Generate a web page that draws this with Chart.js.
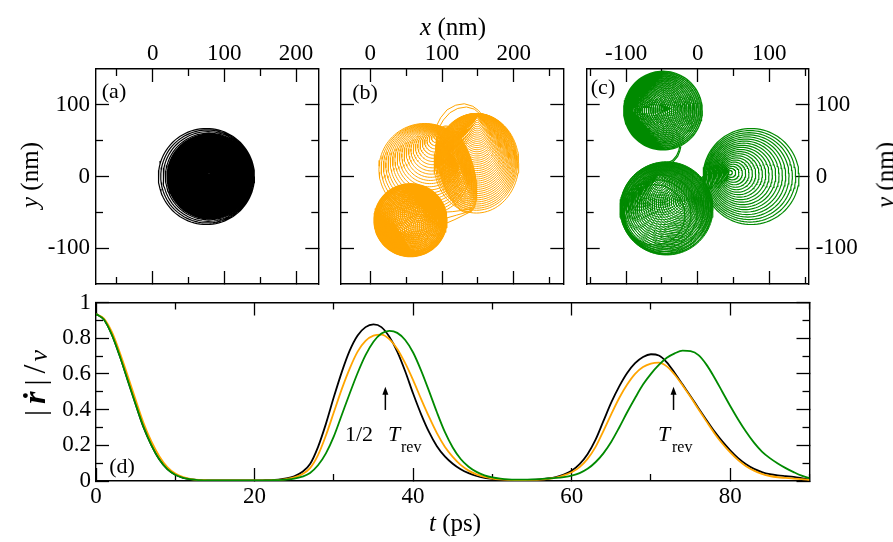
<!DOCTYPE html>
<html lang="en">
<head>
<meta charset="UTF-8">
<title>Trajectories and speed revivals</title>
<script src="https://cdn.jsdelivr.net/npm/chart.js"></script>
<style>
  body { margin: 0; background: #fff; }
  #fig { position: relative; width: 893px; height: 542px; overflow: hidden; font-family: 'Liberation Serif', serif; color: #000; }
  #fig canvas { position: absolute; left: 0; top: 0; }
  .lbl { position: absolute; white-space: nowrap; line-height: 1; }
  .c { transform: translate(-50%, -50%); }
  .rot { transform: translate(-50%, -50%) rotate(-90deg); }
</style>
</head>
<body>
<div id="fig">
  <canvas id="chartA" width="893" height="542"></canvas>
  <canvas id="chartB" width="893" height="542"></canvas>
  <canvas id="chartC" width="893" height="542"></canvas>
  <canvas id="chartD" width="893" height="542"></canvas>

  <!-- axis titles -->
  <div class="lbl c" style="left:453px;top:26px;font-size:25px"><i>x</i> (nm)</div>
  <div class="lbl rot" style="left:29px;top:175px;font-size:25px"><i>y</i> (nm)</div>
  <div class="lbl rot" style="left:885px;top:175px;font-size:25px"><i>y</i> (nm)</div>
  <div class="lbl c" style="left:455px;top:522px;font-size:25px"><i>t</i> (ps)</div>
  <div class="lbl rot" style="left:34px;top:383px;font-size:30px">|<b><i style="margin:0 6px;font-size:32px">ṙ</i></b>|<span style="font-size:32px;margin-left:6px">/</span><i style="font-size:26px;margin-left:3px;position:relative;top:2px">v</i></div>

  <!-- panel tags -->
  <div class="lbl c" style="left:114px;top:91px;font-size:22px">(a)</div>
  <div class="lbl c" style="left:365px;top:92px;font-size:22px">(b)</div>
  <div class="lbl c" style="left:603px;top:87px;font-size:22px">(c)</div>
  <div class="lbl c" style="left:122px;top:466px;font-size:22px">(d)</div>

  <!-- revival annotations -->
  <div class="lbl" style="left:345px;top:423px;font-size:22px">1/2</div>
  <div class="lbl" style="left:388px;top:423px;font-size:22px"><i>T</i></div>
  <div class="lbl" style="left:401px;top:439px;font-size:16px">rev</div>
  <div class="lbl" style="left:658px;top:423px;font-size:22px"><i>T</i></div>
  <div class="lbl" style="left:672px;top:439px;font-size:16px">rev</div>
</div>

<script>
// ---------- panel (d): |r'|/v against t ----------
const timePs = [0,1,2,3,4,5,6,7,8,9,10,11,12,13,14,15,16,17,18,19,20,21,22,23,24,25,26,27,28,29,
  30,31,32,33,34,35,36,37,38,39,40,41,42,43,44,45,46,47,48,49,50,51,52,53,54,55,56,57,58,59,
  60,61,62,63,64,65,66,67,68,69,70,71,72,73,74,75,76,77,78,79,80,81,82,83,84,85,86,87,88,89,90];

const speedBlack = [0.935,0.905,0.82,0.70,0.565,0.43,0.30,0.20,0.12,0.066,0.035,0.018,0.009,0.005,0.003,
  0.003,0.003,0.003,0.003,0.003,0.003,0.004,0.005,0.008,0.014,0.026,0.05,0.095,0.19,0.32,
  0.47,0.61,0.73,0.815,0.862,0.877,0.862,0.808,0.725,0.615,0.49,0.375,0.275,0.195,0.138,
  0.097,0.066,0.044,0.028,0.018,0.012,0.008,0.006,0.005,0.005,0.006,0.009,0.014,0.022,0.036,
  0.058,0.095,0.15,0.23,0.335,0.44,0.53,0.605,0.66,0.695,0.71,0.703,0.665,0.605,0.54,
  0.475,0.408,0.342,0.278,0.222,0.172,0.128,0.094,0.068,0.05,0.038,0.031,0.027,0.023,0.016,0.008];

const speedOrange = [0.935,0.91,0.835,0.72,0.59,0.455,0.325,0.22,0.138,0.078,0.042,0.022,0.011,0.006,0.004,
  0.003,0.003,0.003,0.003,0.003,0.003,0.003,0.004,0.006,0.011,0.02,0.038,0.072,0.145,0.255,
  0.385,0.515,0.63,0.725,0.785,0.814,0.82,0.795,0.74,0.66,0.565,0.46,0.36,0.268,0.192,
  0.135,0.09,0.058,0.037,0.023,0.014,0.009,0.006,0.005,0.005,0.006,0.008,0.012,0.019,0.031,
  0.049,0.078,0.124,0.19,0.28,0.375,0.465,0.54,0.60,0.638,0.658,0.663,0.642,0.595,0.535,
  0.47,0.402,0.334,0.268,0.21,0.16,0.117,0.083,0.058,0.04,0.028,0.021,0.017,0.013,0.01,0.006];

const speedGreen = [0.935,0.905,0.82,0.70,0.565,0.43,0.303,0.20,0.12,0.066,0.035,0.018,0.009,0.005,0.003,
  0.003,0.003,0.003,0.003,0.003,0.003,0.003,0.004,0.005,0.008,0.013,0.024,0.045,0.088,0.155,
  0.25,0.37,0.49,0.605,0.705,0.78,0.826,0.841,0.83,0.79,0.72,0.62,0.505,0.385,0.275,
  0.188,0.123,0.08,0.051,0.032,0.02,0.013,0.009,0.008,0.008,0.009,0.011,0.014,0.017,0.022,
  0.03,0.044,0.068,0.105,0.155,0.22,0.30,0.385,0.465,0.54,0.60,0.65,0.69,0.715,0.73,
  0.727,0.705,0.652,0.58,0.50,0.42,0.345,0.276,0.215,0.165,0.128,0.098,0.072,0.05,0.03,0.015];

const dTicksX = [0, 20, 40, 60, 80];
const dMinorX = [10, 30, 50, 70, 90];
const dLabelsX = ['0', '20', '40', '60', '80'];
const dTicksY = [0, 0.2, 0.4, 0.6, 0.8, 1];
const dMinorY = [0.1, 0.3, 0.5, 0.7, 0.9];
const dLabelsY = ['0', '0.2', '0.4', '0.6', '0.8', '1'];
const arrowTimes = [36.5, 72.85];   // 1/2 T_rev and T_rev
const arrowSpan = [0.398, 0.528];

// ---------- panels (a)-(c): trajectories in nm ----------
const nmTicks = [-100, 0, 100];
const nmMinor = [-50, 50];
const nmLabels = ['-100', '0', '100'];
const aTicksX = [0, 100, 200], aMinorX = [-50, 50, 150], aLabelsX = ['0', '100', '200'];
const bTicksX = [0, 100, 200], bMinorX = [50, 150, 250], bLabelsX = ['0', '100', '200'];
const cTicksX = [-100, 0, 100], cMinorX = [-150, -50, 50, 150], cLabelsX = ['-100', '0', '100'];

// each group of loops: start = centre of the smallest loop, end = centre of the loop of radius R
const aRingR = [67, 64.8, 62.6, 60.4];
const aCoreR = [58.5,56.5,54.5,52.5,50.5,48.5,46.5,44.5,42.5,40.5,38.5,36.5,34.5,32.5,30.5,28.5,
  26.5,24.5,22.5,20.5,18.5,16.5,14.5,12.5,10.5,8.5,6.5,4.5,2.5,1];

const bLowR1 = [51,49,47,45,43,41,39,37,35,33,31,29,27,25,23,21,19,17,15,13,11,9,7,5,3,1];
const bLowR2 = [50,48,46,44,42,40,38,36,34,32,30,28,26,24,22,20,18,16,14,12,10,8,6,4,2];
const bLowR3 = [45, 47, 49, 50.5];
const bMidR = [2,4,6.5,9,11.5,14,16.5,19,21.5,24,26.5,29,31.5,34,36.5,39,41.5,44,46.5,49,51.5,54,56.5,59,61.5,64];
const bRightR1 = [1.5,3,4.5,6,7.5,9,10.5,12,13.5,15,16.5,18,19.5,21,22.5,24,25.5,27,28.5,30,31.5,33,34.5,36,
  37.5,39,40.5,42,43.5,45,46.5,48,49.5,51,52.5,54,55.5,57,58.5,60,61.5,63,64.5,66,67.5,69.5];
const bRightR2 = [4,6.5,9,11.5,14,16.5,19,21.5,24,26.5,29,31.5,34,36.5,39,41.5,44,46.5,49,51.5,54,56.5,59,61,62.6];
const bArc1 = [[92,70],[98,82],[107,93],[119,99.5],[131,101.5],[143,98],[151,92],[155,87]];
const bArc2 = [[95,67],[102,79],[111,89],[122,95],[134,97],[145,94],[152,88]];
const bLink1 = [[104,-66],[118,-60],[132,-53],[142,-48]];
const bLink2 = [[106,-58],[120,-54],[134,-50],[144,-46]];
const bLink3 = [[100,-50],[115,-49],[130,-47],[143,-44]];

const c1R1 = [1,2.5,4,5.5,7,8.5,10,11.5,13,14.5,16,17.5,19,20.5,22,23.5,25,26.5,28,29.5,31,32.5,34,35.5,
  37,38.5,40,41.5,43,44.5,46,47.5,49,50.5,52,53.5,55];
const c1R2 = [2,4.5,7,9.5,12,14.5,17,19.5,22,24.5,27,29.5,32,34.5,37,39.5,42,44.5,47,49.5,52,54];
const c2R1 = [1,3,5,7,9,11,13,15,17,19,21,23,25,27,29,31,33,35,37,39,41,43,45,47,49,51,53,55,57,59,61,63,65];
const c2R2 = [2,4,6,8,10,12,14,16,18,20,22,24,26,28,30,32,34,36,38,40,42,44,46,48,50,52,54,56,58,60,62,64];
const c2R3 = [42, 47, 52, 57, 61, 64];
const c3R = [3,6.2,9.4,12.6,15.8,19,22.2,25.4,28.6,31.8,35,38.2,41.4,44.6,47.8,51,54.2,57.4,60.6,63.8,67];
const cTail1 = [[3,-6],[6,-1],[12,2.5],[22,4.5],[34,5.5],[44,5.6]];
const cTail2 = [[5,-3],[15,3.5],[30,5],[44,5]];
const cLink1 = [[-25,42],[-26.5,36],[-29.5,29],[-35,22.5],[-43,18.5],[-50,17]];
const cLink2 = [[-23.5,42],[-25,35.5],[-28,28],[-34,21],[-42,17],[-49,15.5]];

// ---------- helpers ----------
const W = 893, H = 542;
const ORANGE = '#ffa500', GREEN = '#008a00';
Chart.defaults.font.family = "'Liberation Serif', serif";

function loops(g) {
  const pts = [];
  const rot = (g.tilt || 0) * Math.PI / 180;
  g.radii.forEach(r => {
    const k = r / g.R;
    const ox = g.start[0] + k * (g.end[0] - g.start[0]);
    const oy = g.start[1] + k * (g.end[1] - g.start[1]);
    const rx = r * (g.sx || 1), ry = r;
    for (let i = 0; i <= 96; i++) {
      const a = i / 96 * 2 * Math.PI;
      const ex = rx * Math.cos(a), ey = ry * Math.sin(a);
      pts.push({ x: ox + ex * Math.cos(rot) - ey * Math.sin(rot), y: oy + ex * Math.sin(rot) + ey * Math.cos(rot) });
    }
    pts.push({ x: null, y: null });
  });
  return pts;
}

function path(list) {
  return list.map(p => ({ x: p[0], y: p[1] }));
}

function trace(data, color, width) {
  return { data, borderColor: color, borderWidth: width, showLine: true, pointRadius: 0, tension: 0 };
}

function axis(pos, range, ticks, len, size, weight, opt) {
  const horiz = pos === 'top' || pos === 'bottom';
  return {
    type: 'linear', position: pos, min: range[0], max: range[1], weight,
    afterBuildTicks: s => { s.ticks = ticks.map(v => ({ value: v })); },
    afterFit: s => { if (horiz) s.height = size; else s.width = size; },
    grid: { drawOnChartArea: false, drawTicks: true, tickLength: -len, tickWidth: 1.3, tickColor: '#000' },
    border: { display: !!opt.border, color: '#000', width: 1.4 },
    ticks: opt.labels
      ? { display: true, autoSkip: false, maxRotation: 0, padding: len + opt.gap, color: '#000',
          font: { size: 23 }, callback: (v, i) => opt.labels[i] }
      : { display: false }
  };
}

function frame(area, xr, yr, t) {
  return {
    x: axis('bottom', xr, t.xMinor, 7, 0, 0, {}),
    xt: axis('top', xr, t.xMinor, 7, 0, 0, {}),
    y: axis('left', yr, t.yMinor, 7, 0, 0, {}),
    yr: axis('right', yr, t.yMinor, 7, 0, 0, {}),
    xB: axis('bottom', xr, t.xMajor, 13, H - area.b, 1, { border: true, labels: t.bottom, gap: 2 }),
    xT: axis('top', xr, t.xMajor, 13, area.t, 1, { border: true, labels: t.top, gap: 1 }),
    yL: axis('left', yr, t.yMajor, 13, area.l, 1, { border: true, labels: t.left, gap: t.gapL || 6 }),
    yR: axis('right', yr, t.yMajor, 13, W - area.r, 1, { border: true, labels: t.right, gap: 7 })
  };
}

function make(id, datasets, scales, plugins) {
  return new Chart(document.getElementById(id), {
    type: 'scatter',
    data: { datasets },
    options: {
      responsive: false, animation: false, devicePixelRatio: 1,
      layout: { padding: 0 },
      plugins: { legend: { display: false }, tooltip: { enabled: false } },
      scales
    },
    plugins: plugins || []
  });
}

// ---------- (a) ----------
make('chartA', [
  trace(loops({ start: [108.5, 0], end: [75, 0], R: 67, radii: aRingR }), '#000', 1.2),
  trace(loops({ start: [79.3, 0], end: [79.3, 0], R: 58.5, radii: aCoreR }), '#000', 2.2)
], frame({ l: 96, t: 69, r: 318.3, b: 284 }, [-79, 231], [-150, 150],
  { xMajor: aTicksX, xMinor: aMinorX, yMajor: nmTicks, yMinor: nmMinor, top: aLabelsX, left: nmLabels, gapL: 6 }));

// ---------- (b) ----------
make('chartB', [
  trace(loops({ start: [72, -44], end: [56, -61], R: 51, radii: bLowR1 }), ORANGE, 1.1),
  trace(loops({ start: [40, -76], end: [56, -61], R: 51, radii: bLowR2 }), ORANGE, 1.1),
  trace(loops({ start: [56, -61], end: [56, -61], R: 51, radii: bLowR3 }), ORANGE, 1.1),
  trace(loops({ start: [93.6, 58.8], end: [76, 10], R: 64, radii: bMidR }), ORANGE, 1),
  trace(loops({ start: [149, 84], end: [148, 18.5], R: 69.5, sx: 0.85, radii: bRightR1 }), ORANGE, 1),
  trace(loops({ start: [124, 16], end: [120, 10], R: 62.6, sx: 0.38, tilt: 16, radii: bRightR2 }), ORANGE, 1),
  trace(path(bArc1), ORANGE, 1), trace(path(bArc2), ORANGE, 1),
  trace(path(bLink1), ORANGE, 1), trace(path(bLink2), ORANGE, 1), trace(path(bLink3), ORANGE, 1)
], frame({ l: 341, t: 69, r: 563.3, b: 284 }, [-40.9, 269.1], [-150, 150],
  { xMajor: bTicksX, xMinor: bMinorX, yMajor: nmTicks, yMinor: nmMinor, top: bLabelsX }));

// ---------- (c) ----------
make('chartC', [
  trace(loops({ start: [-92, 92], end: [-48.5, 92], R: 55, radii: c1R1 }), GREEN, 1.1),
  trace(loops({ start: [-35, 95], end: [-48.5, 92], R: 55, radii: c1R2 }), GREEN, 1),
  trace(loops({ start: [-11.6, -31.5], end: [-43.5, -44.5], R: 65, radii: c2R1 }), GREEN, 1),
  trace(loops({ start: [-55.6, 0.9], end: [-43.5, -44.5], R: 65, radii: c2R2 }), GREEN, 1),
  trace(loops({ start: [-90, -70], end: [-43.5, -44.5], R: 65, radii: c2R3 }), GREEN, 1.1),
  trace(loops({ start: [44, 5.6], end: [74.5, 0], R: 67, radii: c3R }), GREEN, 1.2),
  trace(path(cTail1), GREEN, 1.2), trace(path(cTail2), GREEN, 1.2),
  trace(path(cLink1), GREEN, 1.2), trace(path(cLink2), GREEN, 1.2)
], frame({ l: 586.7, t: 69, r: 808.7, b: 284 }, [-155, 155], [-150, 150],
  { xMajor: cTicksX, xMinor: cMinorX, yMajor: nmTicks, yMinor: nmMinor, top: cLabelsX, right: nmLabels }));

// ---------- (d) ----------
const arrows = {
  id: 'revArrows',
  afterDatasetsDraw(chart) {
    const { ctx, scales } = chart;
    arrowTimes.forEach(t => {
      const px = scales.x.getPixelForValue(t);
      const y0 = scales.y.getPixelForValue(arrowSpan[0]);
      const y1 = scales.y.getPixelForValue(arrowSpan[1]);
      ctx.save();
      ctx.strokeStyle = '#000'; ctx.fillStyle = '#000'; ctx.lineWidth = 1.5;
      ctx.beginPath(); ctx.moveTo(px, y0); ctx.lineTo(px, y1 + 6); ctx.stroke();
      ctx.beginPath(); ctx.moveTo(px, y1); ctx.lineTo(px - 3, y1 + 8); ctx.lineTo(px + 3, y1 + 8);
      ctx.closePath(); ctx.fill();
      ctx.restore();
    });
  }
};

function series(values, color, order) {
  return {
    data: timePs.map((t, i) => ({ x: t, y: values[i] })),
    borderColor: color, borderWidth: 1.8, showLine: true, pointRadius: 0,
    cubicInterpolationMode: 'monotone', order
  };
}

make('chartD', [
  series(speedBlack, '#000', 2),
  series(speedOrange, ORANGE, 1),
  series(speedGreen, GREEN, 0)
], frame({ l: 96, t: 302.5, r: 809.5, b: 481 }, [0, 90], [0, 1],
  { xMajor: dTicksX, xMinor: dMinorX, yMajor: dTicksY, yMinor: dMinorY, bottom: dLabelsX, left: dLabelsY, gapL: 5 }),
  [arrows]);
</script>
</body>
</html>
